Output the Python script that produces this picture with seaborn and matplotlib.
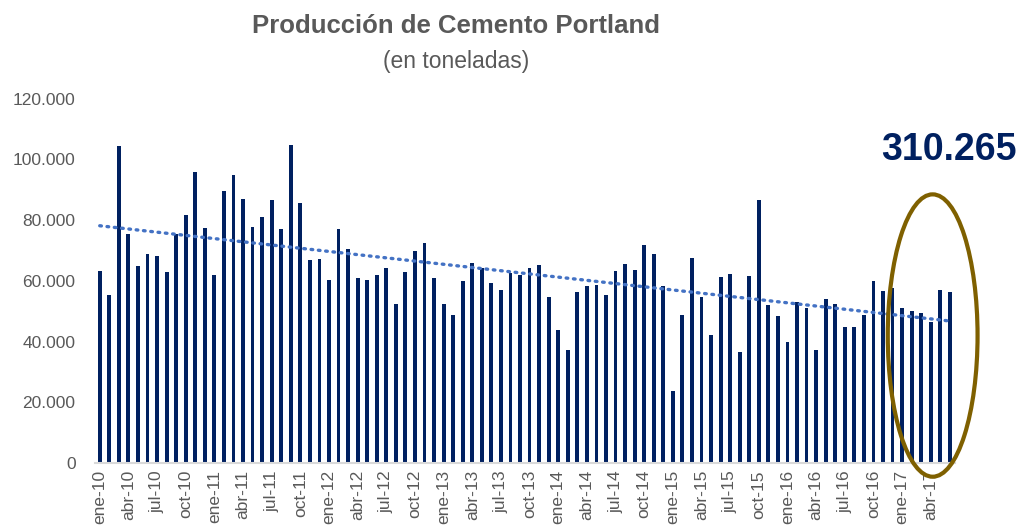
import matplotlib
matplotlib.use("Agg")
import matplotlib.pyplot as plt
from matplotlib.patches import Ellipse
import seaborn as sns
import numpy as np
import pandas as pd

# monthly production, tonnes (ene-10 .. jun-17)
prod_2010 = [63300, 55200, 104400, 75300, 65000, 68800, 68100, 63000, 75300, 81800, 95800, 77400]
prod_2011 = [62000, 89700, 94800, 86900, 77700, 81100, 86600, 77000, 104700, 85600, 66800, 67100]
prod_2012 = [60200, 77000, 70500, 61000, 60200, 62000, 64100, 52400, 63000, 69800, 72500, 61000]
prod_2013 = [52400, 48700, 59900, 66000, 64300, 59200, 57100, 62600, 62000, 64400, 65400, 54800]
prod_2014 = [43800, 37400, 56500, 58200, 58600, 55500, 63300, 65700, 63600, 71900, 68800, 58200]
prod_2015 = [23700, 48700, 67500, 54800, 42200, 61300, 62300, 36700, 61700, 86600, 52100, 48300]
prod_2016 = [39800, 53100, 51100, 37400, 54100, 52400, 44900, 44900, 48700, 59900, 56800, 57800]
prod_2017 = [51000, 50000, 49300, 46600, 57100, 56500]

month_names = ["ene", "feb", "mar", "abr", "may", "jun",
               "jul", "ago", "sep", "oct", "nov", "dic"]
years = ["10", "11", "12", "13", "14", "15", "16", "17"]
highlight_total = "310.265"

values = prod_2010 + prod_2011 + prod_2012 + prod_2013 + prod_2014 + prod_2015 + prod_2016 + prod_2017
labels = [f"{m}-{y}" for y in years for m in month_names][:len(values)]
df = pd.DataFrame({"mes": labels, "toneladas": values, "idx": np.arange(len(values))})

navy = "#002060"
gray = "#595959"

sns.set_style("white")
plt.rcParams["font.family"] = ["Liberation Sans", "DejaVu Sans"]

fig = plt.figure(figsize=(10.21, 5.28), dpi=100)
ax = fig.add_axes([0.093, 0.123, 0.842, 0.69])

sns.barplot(data=df, x="mes", y="toneladas", color=navy, width=0.4,
            saturation=1, linewidth=0, ax=ax)
sns.regplot(data=df, x="idx", y="toneladas", scatter=False, ci=None, ax=ax,
            line_kws=dict(color="#4472C4", lw=2.4, linestyle=(0, (0.5, 1.7)),
                          dash_capstyle="round"))

ax.set_xlim(-0.5, len(values) - 0.5)
ax.set_ylim(0, 120000)
ax.set_yticks(np.arange(0, 120001, 20000))
ax.set_yticklabels([f"{v:,}".replace(",", ".") for v in range(0, 120001, 20000)],
                   color=gray, fontsize=12.5)
ax.set_xticks(np.arange(0, len(values), 3))
ax.set_xticklabels(labels[::3], rotation=90, color=gray, fontsize=12.5)
ax.tick_params(axis="y", length=0, pad=14)
ax.tick_params(axis="x", length=0, pad=5)
ax.set_xlabel("")
ax.set_ylabel("")

sns.despine(ax=ax, left=True)
ax.spines["bottom"].set_color("#D9D9D9")
ax.spines["bottom"].set_linewidth(1.5)

# highlight last six months
ell = Ellipse((87.2, 42000), 9.4, 93000, fill=False, edgecolor="#7F6000",
              lw=3, clip_on=False, zorder=5)
ax.add_patch(ell)

fig.text(0.447, 0.951, "Producción de Cemento Portland", ha="center", va="center",
         fontsize=18.5, fontweight="bold", color=gray)
fig.text(0.447, 0.884, "(en toneladas)", ha="center", va="center",
         fontsize=16.5, color=gray)
fig.text(0.929, 0.715, highlight_total, ha="center", va="center",
         fontsize=27, fontweight="bold", color=navy)

fig.savefig("out.png", dpi=100)
